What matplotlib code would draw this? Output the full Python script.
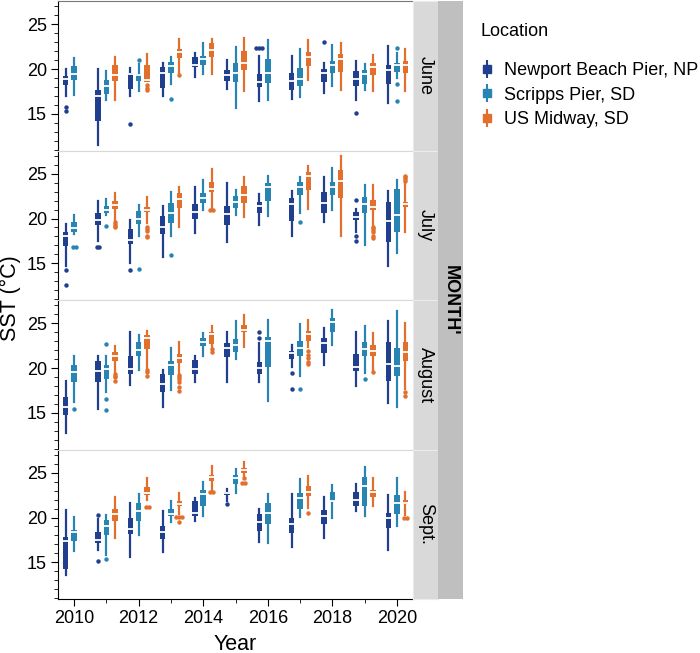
import numpy as np
import matplotlib.pyplot as plt
from matplotlib.lines import Line2D
from matplotlib.legend_handler import HandlerTuple
from matplotlib.ticker import MultipleLocator

plt.rcParams['font.family'] = ['Liberation Sans', 'DejaVu Sans']

years = list(range(2010, 2021))
months = ['June', 'July', 'August', 'Sept.']
locations = ['Newport Beach Pier, NP', 'Scripps Pier, SD', 'US Midway, SD']
colors = ['#213f8f', '#2784b3', '#e2702c']
offsets = [-0.26, 0.0, 0.26]

# one entry per year 2010..2020: (whisker low, q1, median, q3, whisker high, outliers)
jun_np = [
    (17.0, 18.2, 18.9, 19.2, 20.0, [15.8, 15.3]),
    (11.5, 14.2, 17.0, 17.7, 20.0, []),
    (17.0, 17.8, 19.4, 19.6, 20.1, [13.9]),
    (17.0, 17.9, 19.6, 20.2, 20.7, []),
    (19.1, 20.2, 20.4, 21.3, 21.8, []),
    (17.8, 18.7, 19.3, 19.9, 21.0, []),
    (16.4, 18.0, 18.6, 19.4, 21.5, [22.3, 22.3, 22.3]),
    (16.7, 17.7, 18.7, 19.6, 21.5, []),
    (17.3, 18.6, 19.6, 20.0, 20.7, [23.0]),
    (16.5, 18.1, 18.9, 19.8, 20.9, [15.1]),
    (16.2, 18.3, 19.9, 20.5, 22.6, []),
]
jun_sd = [
    (17.1, 18.8, 19.5, 20.3, 21.2, []),
    (16.5, 17.2, 18.1, 18.8, 19.8, []),
    (17.5, 18.7, 19.3, 19.5, 20.6, [21.0]),
    (18.3, 19.6, 20.3, 20.8, 21.4, [16.6]),
    (19.5, 20.5, 21.1, 21.5, 22.9, []),
    (15.6, 18.5, 19.6, 20.7, 22.5, []),
    (16.5, 18.4, 19.6, 21.1, 23.2, []),
    (16.9, 18.1, 18.9, 20.1, 22.2, []),
    (18.1, 19.6, 20.4, 20.9, 22.7, []),
    (17.7, 18.3, 19.4, 19.9, 20.6, []),
    (19.0, 19.7, 20.5, 20.7, 21.8, [22.3, 18.3, 16.4]),
]
jun_mw = [
    None,
    (16.5, 18.7, 19.3, 20.4, 21.4, []),
    (18.5, 18.6, 18.8, 20.5, 21.7, [18.2, 17.9, 17.7]),
    (19.5, 21.2, 21.9, 22.2, 23.3, [19.3]),
    (19.4, 21.4, 22.1, 22.9, 23.4, []),
    (17.6, 19.9, 20.7, 22.0, 23.5, []),
    None,
    (18.8, 20.3, 21.4, 21.9, 23.2, []),
    (17.7, 19.7, 21.1, 21.7, 22.9, []),
    (17.6, 19.3, 20.2, 20.7, 21.6, []),
    (17.5, 19.6, 20.4, 20.9, 22.2, []),
]

jul_np = [
    (14.7, 16.9, 18.0, 18.5, 19.4, [14.3, 12.6]),
    (17.5, 19.3, 19.8, 20.6, 22.0, [16.8, 16.8]),
    (15.0, 17.2, 17.6, 18.8, 19.8, [14.3]),
    (15.7, 18.3, 19.0, 20.3, 21.4, []),
    (18.4, 20.0, 20.7, 21.6, 23.5, []),
    (17.4, 19.3, 20.5, 21.4, 24.0, []),
    (19.3, 20.6, 21.4, 21.9, 22.7, []),
    (18.0, 19.7, 21.6, 22.3, 23.1, []),
    (19.6, 20.6, 21.7, 23.0, 24.6, []),
    (18.5, 19.8, 20.2, 20.7, 21.1, [22.1, 18.1, 17.5]),
    (14.7, 17.4, 19.7, 21.9, 23.1, []),
]
jul_sd = [
    (18.3, 18.5, 18.9, 19.6, 20.4, [16.8, 16.8]),
    (20.4, 20.6, 21.0, 21.4, 22.2, [19.2]),
    (18.0, 19.4, 19.9, 20.8, 21.5, [14.4]),
    (18.0, 19.5, 20.6, 21.7, 23.0, [15.9]),
    (20.9, 21.7, 22.3, 22.9, 24.3, []),
    (20.4, 21.2, 21.9, 22.5, 23.2, []),
    (20.3, 22.0, 23.5, 24.0, 24.7, []),
    (20.6, 22.6, 23.5, 24.1, 24.6, [19.6]),
    (21.0, 22.6, 23.5, 24.1, 25.6, []),
    (17.0, 20.6, 21.6, 22.4, 23.7, []),
    (16.2, 18.5, 20.4, 23.3, 24.3, []),
]
jul_mw = [
    None,
    (19.8, 21.1, 21.5, 22.0, 22.9, [19.6, 19.4, 19.2, 19.0]),
    (19.5, 20.7, 21.0, 21.3, 22.4, [19.0, 18.8, 18.6, 18.1, 17.9]),
    (19.0, 21.2, 22.2, 22.8, 23.5, []),
    (21.2, 23.0, 23.3, 24.1, 25.5, [20.9, 20.9]),
    (20.2, 21.7, 22.6, 23.6, 24.6, []),
    None,
    (21.1, 23.2, 24.8, 25.2, 25.9, []),
    (18.1, 22.3, 24.2, 25.4, 27.0, []),
    (19.3, 20.9, 21.3, 22.1, 23.7, [19.1, 18.9, 18.7, 18.5, 18.1, 17.8]),
    (18.5, 21.3, 21.6, 21.9, 24.0, [24.8, 24.6, 24.4, 24.2]),
]

aug_np = [
    (12.7, 14.8, 15.6, 16.8, 18.6, []),
    (15.4, 18.4, 19.7, 20.8, 21.3, []),
    (18.1, 19.3, 19.9, 21.4, 24.0, []),
    (15.7, 17.3, 18.2, 19.3, 19.8, []),
    (18.4, 19.3, 19.9, 20.9, 21.4, []),
    (18.4, 21.2, 22.2, 22.8, 24.0, []),
    (18.4, 19.3, 20.0, 20.7, 22.8, [24.0, 23.4]),
    (20.1, 21.0, 21.7, 21.9, 22.6, [19.5, 17.7]),
    (20.3, 21.7, 22.8, 23.4, 24.5, []),
    (18.0, 19.7, 20.1, 21.6, 24.0, []),
    (16.1, 18.5, 20.4, 22.9, 25.3, []),
]
aug_sd = [
    (16.2, 18.4, 19.6, 20.3, 21.3, [15.4]),
    (17.3, 18.8, 19.9, 20.3, 21.3, [22.7, 16.5, 15.3]),
    (19.8, 21.3, 22.0, 22.9, 23.7, []),
    (17.6, 19.2, 20.3, 20.8, 22.2, []),
    (21.4, 22.5, 22.9, 23.4, 23.9, []),
    (21.0, 21.8, 22.6, 23.2, 25.3, []),
    (16.3, 20.1, 23.0, 23.5, 25.4, []),
    (19.1, 21.4, 22.2, 23.0, 24.9, [17.7]),
    (22.6, 24.0, 25.1, 25.6, 26.5, []),
    (19.4, 21.3, 22.1, 22.9, 24.7, [18.8]),
    (15.7, 19.1, 20.2, 22.2, 26.4, []),
]
aug_mw = [
    None,
    (19.5, 20.8, 21.4, 21.8, 22.5, [19.3, 19.1, 19.0, 18.6]),
    (20.0, 22.1, 23.3, 23.7, 24.1, [19.8, 19.6, 19.1]),
    (19.5, 20.6, 21.1, 21.6, 22.9, [19.2, 19.0, 18.8, 18.4, 17.9, 17.4]),
    (22.4, 22.7, 23.8, 24.0, 24.7, [22.1, 21.8]),
    (22.3, 24.0, 24.3, 24.8, 25.9, []),
    None,
    (22.3, 23.0, 23.8, 24.1, 25.4, [21.9, 21.5, 21.1, 20.7, 20.4]),
    None,
    (19.7, 21.3, 21.9, 22.6, 23.9, [19.6]),
    (17.7, 20.8, 21.8, 22.9, 25.0, [17.3, 16.9]),
]

sep_np = [
    (13.6, 14.3, 17.4, 17.8, 20.8, []),
    (16.4, 17.1, 17.5, 18.4, 19.8, [20.3, 15.2]),
    (15.6, 18.2, 18.7, 20.0, 21.6, []),
    (16.2, 17.6, 18.4, 19.1, 20.7, []),
    (19.6, 20.2, 20.5, 21.8, 22.2, []),
    (21.8, 22.5, 22.7, 22.9, 23.2, [21.5]),
    (17.3, 18.5, 19.5, 20.4, 20.9, []),
    (16.7, 18.3, 19.3, 20.0, 22.6, []),
    (17.7, 19.3, 20.2, 20.8, 22.3, []),
    (20.7, 21.3, 22.0, 22.9, 23.7, []),
    (16.4, 18.8, 20.0, 20.5, 22.5, []),
]
sep_sd = [
    (16.3, 17.4, 18.4, 18.6, 20.1, []),
    (15.8, 18.1, 19.1, 19.7, 20.3, [15.4]),
    (18.0, 19.6, 20.7, 21.6, 22.6, []),
    (19.5, 20.2, 20.4, 20.9, 21.8, []),
    (20.2, 21.3, 22.6, 23.1, 24.0, []),
    (22.7, 23.8, 24.4, 24.7, 25.4, []),
    (17.2, 19.3, 20.5, 21.6, 22.6, []),
    (20.1, 20.9, 22.2, 22.7, 24.3, []),
    (19.9, 21.8, 21.9, 22.9, 23.6, []),
    (20.2, 21.3, 23.5, 24.5, 25.7, []),
    (19.0, 20.4, 21.6, 22.5, 24.4, []),
]
sep_mw = [
    None,
    (17.7, 19.6, 20.4, 20.9, 22.3, []),
    (22.0, 22.5, 22.7, 23.4, 24.4, [21.2, 21.2]),
    (20.4, 21.3, 21.5, 21.8, 22.7, [20.1, 20.1, 20.1, 19.5]),
    (23.0, 24.1, 24.5, 24.7, 25.8, [22.8, 22.8]),
    (24.6, 25.0, 25.3, 25.5, 26.2, [24.4, 23.9, 23.9]),
    None,
    (21.1, 22.4, 22.9, 23.5, 24.6, [20.5]),
    None,
    (21.3, 22.3, 22.8, 23.1, 24.4, []),
    (20.3, 21.5, 21.6, 22.0, 22.9, [20.0, 20.0]),
]

panels = [
    (jun_np, jun_sd, jun_mw),
    (jul_np, jul_sd, jul_mw),
    (aug_np, aug_sd, aug_mw),
    (sep_np, sep_sd, sep_mw),
]

W, H = 700, 653
fig, axes = plt.subplots(4, 1, figsize=(W / 100, H / 100), dpi=100, sharex=True)
fig.subplots_adjust(left=58 / W, right=413 / W, top=1 - 1 / H, bottom=1 - 599 / H, hspace=0)

for ax, series in zip(axes, panels):
    for i, data in enumerate(series):
        c = colors[i]
        stats, pos = [], []
        for yr, rec in zip(years, data):
            if rec is None:
                continue
            lo, q1, med, q3, hi, out = rec
            x = yr + offsets[i]
            stats.append(dict(whislo=lo, q1=q1, med=med, q3=q3, whishi=hi, fliers=[]))
            pos.append(x)
            # repeated outlier values sit side by side
            if out:
                vals, counts = np.unique(out, return_counts=True)
                for v, n in zip(vals, counts):
                    xs = x + (np.arange(n) - (n - 1) / 2) * 0.09
                    ax.plot(xs, [v] * n, 'o', color=c, ms=3.2, mew=0, zorder=3)
        ax.bxp(stats, positions=pos, widths=0.17, patch_artist=True,
               showcaps=False, showfliers=False, manage_ticks=False,
               boxprops=dict(facecolor=c, edgecolor=c, linewidth=0),
               whiskerprops=dict(color=c, linewidth=1.6),
               medianprops=dict(color='white', linewidth=1.3))

    ax.set_ylim(10.9, 27.6)
    ax.set_xlim(2009.5, 2020.5)
    ax.yaxis.set_major_locator(MultipleLocator(5))
    ax.yaxis.set_minor_locator(MultipleLocator(1))
    ax.xaxis.set_major_locator(MultipleLocator(2))
    ax.xaxis.set_minor_locator(MultipleLocator(1))
    ax.tick_params(which='major', length=5, width=0.8, labelsize=13, pad=3)
    ax.tick_params(which='minor', length=3, width=0.6)
    for s in ['top', 'right', 'bottom']:
        ax.spines[s].set_color('#d9d9d9')
    ax.spines['left'].set_color('black')

axes[0].spines['top'].set_color('#777777')
axes[-1].spines['bottom'].set_color('black')
axes[-1].xaxis.set_major_formatter(plt.FuncFormatter(lambda v, p: f'{int(v)}'))

# facet strips
for ax, month in zip(axes, months):
    b = ax.get_position()
    sax = fig.add_axes([413 / W, b.y0, 25 / W, b.height])
    sax.set_facecolor('#d9d9d9')
    sax.set_xticks([])
    sax.set_yticks([])
    for s in sax.spines.values():
        s.set_color('#ebebeb')
    sax.text(0.5, 0.5, month, rotation=-90, ha='center', va='center',
             fontsize=13, transform=sax.transAxes)

b0 = axes[-1].get_position()
b1 = axes[0].get_position()
oax = fig.add_axes([438 / W, b0.y0, 25 / W, b1.y1 - b0.y0])
oax.set_facecolor('#bfbfbf')
oax.set_xticks([])
oax.set_yticks([])
for s in oax.spines.values():
    s.set_visible(False)
oax.text(0.5, 0.5, "MONTH'", rotation=-90, ha='center', va='center',
         fontsize=13, fontweight='bold', transform=oax.transAxes)

fig.text(10 / W, 1 - 298 / H, 'SST (°C)', rotation=90, ha='center', va='center', fontsize=15.5)
fig.text(235.5 / W, 1 - 644 / H, 'Year', ha='center', va='center', fontsize=15.5)

handles = [(Line2D([], [], color=c, marker='|', ms=13, mew=1.5, ls=''),
            Line2D([], [], color=c, marker='s', ms=5.5, ls=''))
           for c in colors]
leg = fig.legend(handles, locations, loc='upper left', bbox_to_anchor=(464 / W, 1 - 7 / H),
                 title='Location', alignment='left', frameon=False, fontsize=13,
                 title_fontsize=13, handlelength=0.8, handletextpad=0.5,
                 labelspacing=0.4, handler_map={tuple: HandlerTuple(ndivide=1)})
leg._legend_box.sep = 16

fig.savefig('out.png', dpi=100)
